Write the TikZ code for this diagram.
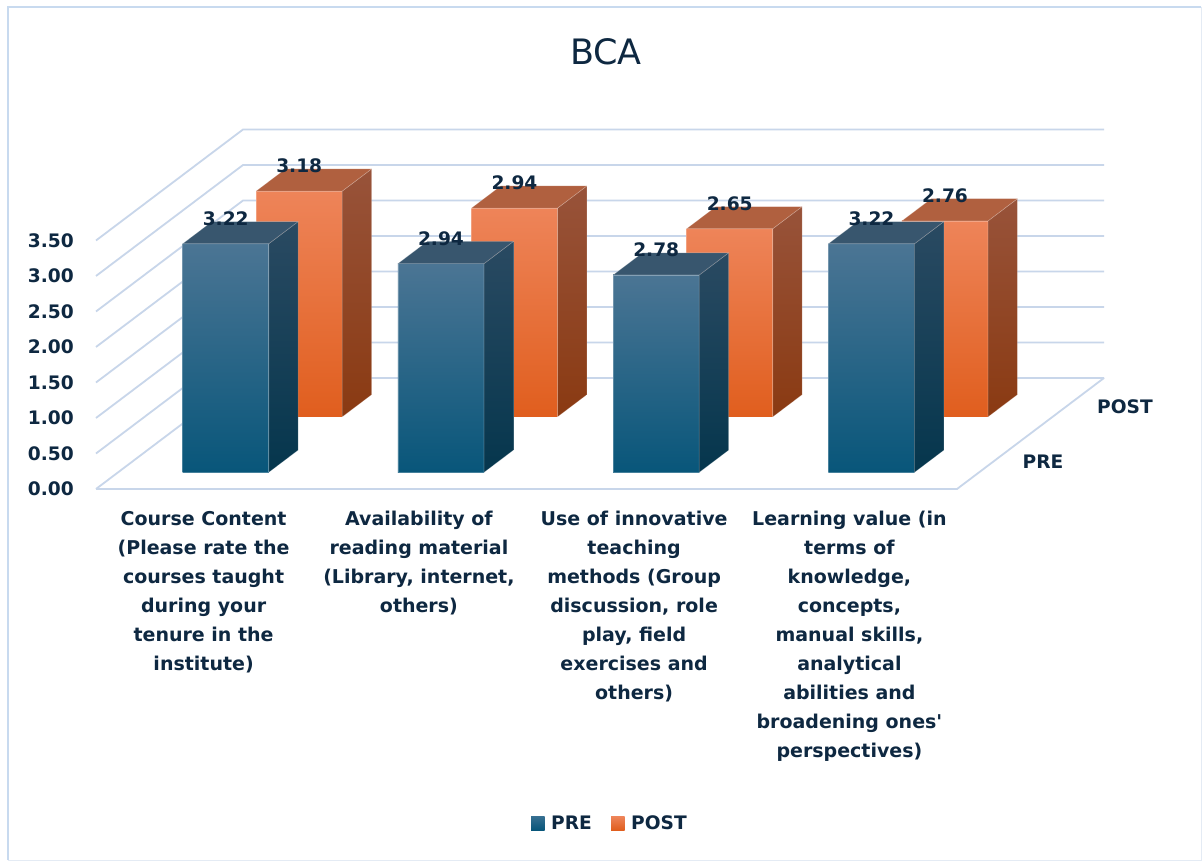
\documentclass[tikz,border=0pt]{standalone}
\usepackage{fontspec}
\setmainfont{DejaVu Sans}[Ligatures=TeXOff]
\definecolor{txt}{HTML}{0E2841}
\definecolor{gridc}{HTML}{C8D6EA}
\definecolor{preT}{HTML}{4B7594}
\definecolor{preM}{HTML}{16668C}
\definecolor{preB}{HTML}{08567A}
\definecolor{preST}{HTML}{2A4A62}
\definecolor{preSB}{HTML}{05364D}
\definecolor{preTop}{HTML}{38566E}
\definecolor{postT}{HTML}{EE8459}
\definecolor{postM}{HTML}{F2712D}
\definecolor{postB}{HTML}{E05E1E}
\definecolor{postST}{HTML}{98533A}
\definecolor{postSB}{HTML}{8A3A12}
\definecolor{postTop}{HTML}{B0603F}
\tikzset{
  gridl/.style={draw=gridc, line width=1.8pt},
  baredge/.style={draw=white, draw opacity=0.25, line width=0.6pt, line join=round},
  lab/.style={text=txt, inner sep=0pt, font=\bfseries\fontsize{18.6}{22}\selectfont},
  catlab/.style={text=txt, inner sep=0pt, align=center, anchor=north, font=\bfseries\fontsize{19}{29}\selectfont},
}
\newcommand\mybar[5]{% #1 c0, #2 d0, #3 h, #4 series, #5 label name
  \pgfmathsetmacro\ca{#1}\pgfmathsetmacro\cb{#1+86.1}\pgfmathsetmacro\cm{#1+43.05}%
  \pgfmathsetmacro\da{#2}\pgfmathsetmacro\db{#2+0.2}%
  \path[baredge, top color=#4T, middle color=#4M, bottom color=#4B]
    (\ca,0,\da) -- (\cb,0,\da) -- (\cb,#3,\da) -- (\ca,#3,\da) -- cycle;
  \path[baredge, top color=#4ST, bottom color=#4SB]
    (\cb,0,\da) -- (\cb,0,\db) -- (\cb,#3,\db) -- (\cb,#3,\da) -- cycle;
  \path[baredge, fill=#4Top]
    (\ca,#3,\da) -- (\cb,#3,\da) -- (\cb,#3,\db) -- (\ca,#3,\db) -- cycle;
  \coordinate (#5) at (\cm,#3,\da);
}
\begin{document}
\begin{tikzpicture}[x=1pt,y=-1pt]
\useasboundingbox (0,0) rectangle (1202,861);
\fill[white] (0,0) rectangle (1202,861);
% frame
\draw[draw={rgb,255:red,228;green,235;blue,244}, line width=1pt] (1201,7) -- (1201,860) -- (8,860);
\draw[draw={rgb,255:red,200;green,218;blue,239}, line width=1.6pt] (8,860) -- (8,7) -- (1201,7);

\begin{scope}[shift={(96pt,-489pt)}, x={(1pt,0pt)}, y={(0pt,71pt)}, z={(147pt,111pt)}]
  % walls and floor
  \foreach \v in {0,0.5,1,1.5,2,2.5,3,3.5} {
    \draw[gridl] (0,\v,0) -- (0,\v,1) -- (861,\v,1);
  }
  \draw[gridl] (0,0,0) -- (861,0,0) -- (861,0,1);
  % axis labels
  \foreach \v/\t [count=\i] in {0/0.00,0.5/0.50,1/1.00,1.5/1.50,2/2.00,2.5/2.50,3/3.00,3.5/3.50} {
    \node[lab, anchor=east] (ax\i) at ([xshift=-22pt]0,\v,0) {\t};
  }
  % POST row (back)
  \mybar{64.6}{0.65}{3.18}{post}{q1}
  \mybar{279.85}{0.65}{2.94}{post}{q2}
  \mybar{495.1}{0.65}{2.65}{post}{q3}
  \mybar{710.35}{0.65}{2.76}{post}{q4}
  % PRE row (front)
  \mybar{64.6}{0.15}{3.22}{pre}{p1}
  \mybar{279.85}{0.15}{2.94}{pre}{p2}
  \mybar{495.1}{0.15}{2.78}{pre}{p3}
  \mybar{710.35}{0.15}{3.22}{pre}{p4}
\end{scope}

% value labels
\foreach \n/\t in {q1/3.18,q2/2.94,q3/2.65,q4/2.76,p1/3.22,p2/2.94,p3/2.78,p4/3.22} {
  \node[lab] (v\n) at ([yshift=25pt]\n) {\t};
}

% title
\node[text=txt, inner sep=0pt, font=\fontsize{35}{40}\selectfont] (title) at (606,52) {BCA};

% series labels
\node[lab] (spost) at (1125,407) {POST};
\node[lab] (spre) at (1043,462) {PRE};

% category labels
\node[catlab] (cat1) at (203.6,511) {Course Content\\(Please rate the\\courses taught\\during your\\tenure in the\\institute)};
\node[catlab] (cat2) at (418.9,511) {Availability of\\reading material\\(Library, internet,\\others)};
\node[catlab] (cat3) at (634.1,511) {Use of innovative\\teaching\\methods (Group\\discussion, role\\play, field\\exercises and\\others)};
\node[catlab] (cat4) at (849.4,511) {Learning value (in\\terms of\\knowledge,\\concepts,\\manual skills,\\analytical\\abilities and\\broadening ones'\\perspectives)};

% legend
\path[top color=preT!60!preM, bottom color=preB] (531,816.5) rectangle (544.5,830);
\node[lab, anchor=west] (lpre) at (551,822.5) {PRE};
\path[top color=postT, bottom color=postB] (611,816.5) rectangle (624.5,830);
\node[lab, anchor=west] (lpost) at (631,822.5) {POST};
\end{tikzpicture}
\end{document}
